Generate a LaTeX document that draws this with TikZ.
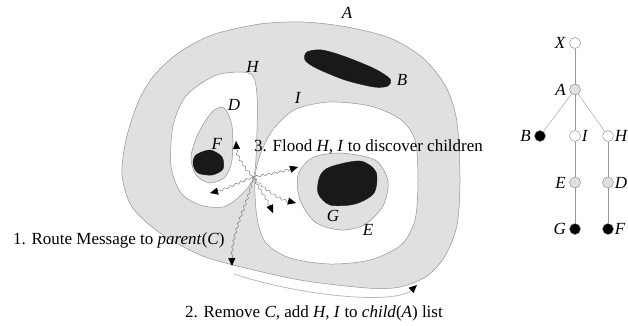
\documentclass[tikz,border=0pt]{standalone}
\usepackage{fontspec}
\setmainfont{Liberation Serif}
\usetikzlibrary{positioning, arrows.meta, decorations.pathmorphing}

\definecolor{areagray}{gray}{0.88}

\tikzset{
  region/.style={draw=gray!85, line width=0.5pt},
  blob/.style={fill=black!90, draw=black!90},
  vert/.style={circle, draw=gray, minimum size=11pt, inner sep=0pt},
  rlab/.style={label={[inner sep=0.5pt, label distance=0.5pt]right:#1}},
  txt/.style={anchor=west, inner sep=0pt},
  wave/.style={draw=gray, line width=0.5pt, decorate,
    decoration={snake, amplitude=1.1pt, segment length=6pt, pre length=2pt, post length=6pt},
    -{Triangle[length=8pt, width=7pt, color=black]}},
}

\begin{document}
\begin{tikzpicture}[x=1pt, y=-1pt, node distance=46.5pt, on grid,
    every node/.style={font=\fontsize{17}{20}\selectfont}]
    \useasboundingbox (0,0) rectangle (628,326);

    % cluster A and its holes
    \draw [region, fill=areagray] plot [smooth cycle] coordinates {
        (122,175) (126,140) (137,105) (152,78) (177,54) (212,35) (260,24) (303,22)
        (347,27) (390,38) (423,58) (446,87) (457,122) (460,180) (457,225) (445,256)
        (427,276) (400,287) (367,288) (300,280) (233,265) (198,254) (160,233) (132,207)};
    \draw [region, fill=white] plot [smooth cycle] coordinates {
        (240,72) (253,76) (257,95) (257,130) (254,176) (240,196) (223,207) (200,205)
        (181,193) (171,166) (173,126) (186,96) (214,76)};
    \draw [region, fill=white] plot [smooth cycle] coordinates {
        (255,177) (262,150) (275,127) (296,109) (330,102) (370,106) (400,119) (415,140)
        (418,180) (415,220) (401,245) (370,260) (330,264) (290,258) (266,243) (257,218)};
    \draw [region, fill=areagray] plot [smooth cycle] coordinates {
        (224,108) (232,126) (232,160) (225,177) (210,183) (196,175) (191,157) (198,134) (212,112)};
    \draw [region, fill=areagray] plot [smooth cycle] coordinates {
        (340,153) (375,160) (388,181) (383,206) (364,225) (340,230) (315,222) (300,200)
        (298,175) (312,158)};
    \fill [blob] plot [smooth cycle] coordinates {
        (196,155) (210,150) (222,157) (223,169) (212,175) (198,173) (193,164)};
    \fill [blob] plot [smooth cycle] coordinates {
        (330,167) (360,161) (376,172) (374,193) (355,204) (330,205) (318,193) (320,176)};
    \fill [blob] plot [smooth cycle] coordinates {
        (307,52) (322,50) (346,57) (375,69) (390,79) (388,86) (374,87) (345,80) (316,68) (305,60)};

    % labels of the clusters
    \node (lA) at (347,13) {\textit{A}};
    \node (lB) at (402,80) {\textit{B}};
    \node (lH) at (253,67) {\textit{H}};
    \node (lI) at (298,98) {\textit{I}};
    \node (lD) at (234,105) {\textit{D}};
    \node (lF) at (217,144) {\textit{F}};
    \node (lG) at (333,216) {\textit{G}};
    \node (lE) at (368,230) {\textit{E}};

    % messages
    \coordinate (src) at (253,177);
    \coordinate (tD) at (236,141);
    \coordinate (tH) at (210,193);
    \coordinate (tP) at (232,266);
    \coordinate (tI) at (273,213);
    \coordinate (tE1) at (296,203);
    \coordinate (tE2) at (298,167);
    \coordinate (rem0) at (234,274);
    \coordinate (rem1) at (417,285);

    \draw [wave] (src) .. controls (242,165) and (236,155) .. (tD);
    \draw [wave] (src) .. controls (240,182) and (225,190) .. (tH);
    \draw [wave] (src) .. controls (248,205) and (230,230) .. (tP);
    \draw [wave] (src) .. controls (260,190) and (268,200) .. (tI);
    \draw [wave] (src) .. controls (265,190) and (280,200) .. (tE1);
    \draw [wave] (src) .. controls (270,174) and (285,171) .. (tE2);
    \draw [gray!55, line width=0.8pt, -{Triangle[length=8pt, width=7pt, color=black]}]
        (rem0) .. controls (300,296) and (395,305) .. (rem1);

    \node (route) [txt] at (13,240) {1. Route Message to \textit{parent}(\textit{C})};
    \node (remove) [txt] at (185,313) {2. Remove \textit{C}, add \textit{H}, \textit{I} to \textit{child}(\textit{A}) list};
    \node (flood) [txt] at (254,147) {3. Flood \textit{H}, \textit{I} to discover children};

    % hierarchy
    \node (X) [vert, fill=white, label=left:\textit{X}] at (575,43) {};
    \node (A) [vert, fill=areagray, below = of X, label=left:\textit{A}] {};
    \node (I) [vert, fill=white, below = of A, rlab=\textit{I}] {};
    \node (B) [vert, fill=black, left = 35pt of I, label=left:\textit{B}] {};
    \node (H) [vert, fill=white, right = 33pt of I, rlab=\textit{H}] {};
    \node (E) [vert, fill=areagray, below = of I, label=left:\textit{E}] {};
    \node (G) [vert, fill=black, below = of E, label=left:\textit{G}] {};
    \node (D) [vert, fill=areagray, below = of H, rlab=\textit{D}] {};
    \node (F) [vert, fill=black, below = of D, rlab=\textit{F}] {};

    \path [draw=gray!80]
        (X) edge (A)
        (A) edge (B)
        (A) edge (I)
        (A) edge (H)
        (I) edge (E)
        (E) edge (G)
        (H) edge (D)
        (D) edge (F);

\end{tikzpicture}
\end{document}
